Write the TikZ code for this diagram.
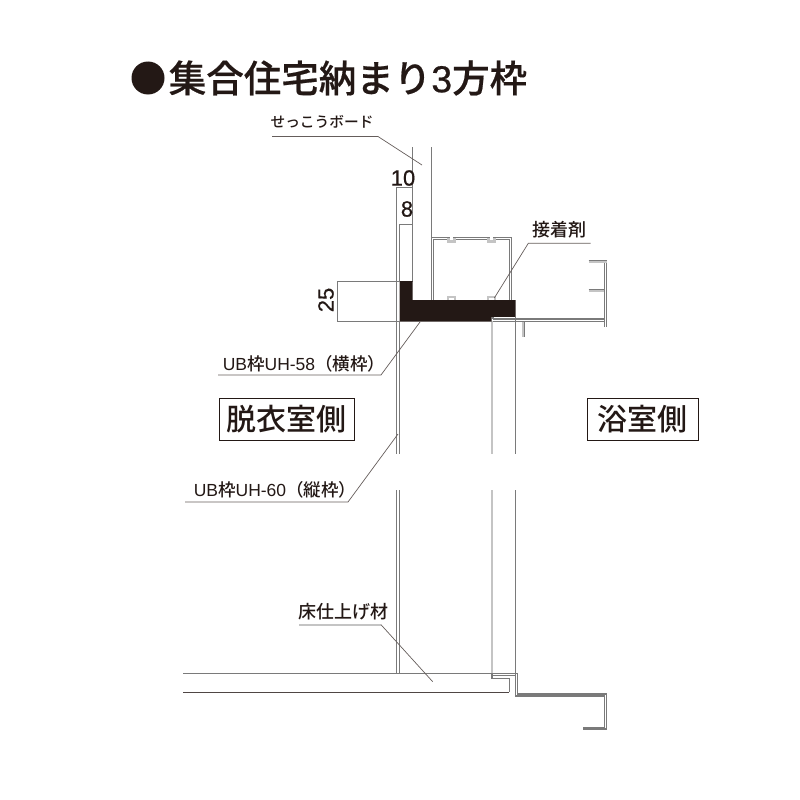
\documentclass[tikz,border=0pt]{standalone}
\usepackage{fontspec}
\setmainfont{Noto Sans CJK JP Medium}
\newfontfamily\latinfont{Liberation Sans}
\newfontfamily\titlefont[FakeBold=0.5]{Noto Sans CJK JP Medium}
\newfontfamily\numberfont[FakeBold=0.5]{Liberation Sans}
\definecolor{inkdark}{HTML}{231815}
\definecolor{linegray}{HTML}{7A7A7A}
\definecolor{palegray}{HTML}{C4C4C4}
\begin{document}
\begin{tikzpicture}[x=1pt,y=-1pt,
  thin line/.style={linegray,line width=1.1pt},
  pale line/.style={palegray,line width=2.4pt},
  double line/.style={linegray,line width=0.9pt,double=white,double distance=1.1pt},
  leader/.style={inkdark!70,line width=0.7pt},
  label/.style={inkdark,inner sep=0pt,font=\fontsize{18}{20}\selectfont},
  dimtext/.style={inkdark,inner sep=0pt,font=\numberfont\fontsize{22}{24}\selectfont},
  room/.style={draw=linegray!80,line width=0.9pt,inkdark,inner sep=0pt,font=\fontsize{30}{34}\selectfont}]
\useasboundingbox (0,0) rectangle (800,800);
\fill [inkdark] (148,78) circle (16.5);
\node (title) at (348,78) [inkdark,inner sep=0pt,font=\titlefont\fontsize{37.5}{42}\selectfont] {集合住宅納まり{\numberfont 3}方枠};
% wall board and frame lines
\draw [thin line] (412.5,147)--(412.5,282);
\draw [thin line] (431.5,147)--(431.5,238);
\draw [thin line] (396.7,187)--(396.7,454);
\draw [thin line] (399.3,224)--(399.3,282);
\draw [thin line] (399.3,321)--(399.3,454);
\draw [thin line] (396.7,490)--(396.7,673);
\draw [thin line] (399.3,490)--(399.3,673);
\draw [thin line] (515.3,317)--(515.3,454);
\draw [thin line] (515.3,490)--(515.3,696);
\draw [pale line] (491.8,321)--(491.8,454);
\draw [pale line] (491.8,490)--(491.8,673);
% hollow section
\draw [double line] (432.5,300)--(432.5,238.3)--(510.8,238.3)--(510.8,300);
\foreach \xclip in {447,487}{
  \fill [palegray] (\xclip,238) rectangle +(8.7,4.5);
  \fill [white] (\xclip+2.8,237) rectangle +(3,3.4);
  \fill [palegray] (\xclip,295.5) rectangle +(8.7,4.5);
  \fill [white] (\xclip+2,297.5) rectangle +(4.7,3);
}
% black section
\fill [inkdark] (399.5,281)--(412.5,281)--(412.5,300)--(515.7,300)--(515.7,316.8)--(491.5,316.8)--(491.5,321.7)--(399.5,321.7)--cycle;
% bath side panel
\draw [thin line] (493,319)--(604,319);
\draw [thin line] (493,321.5)--(604,321.5);
\draw [thin line] (493,317)--(493,319);
\draw [double line] (605.5,327)--(605.5,261.5);
\draw [pale line] (588.5,261.5)--(606.5,261.5);
\draw [linegray,line width=0.8pt] (588.5,260.2)--(606.5,260.2);
\draw [pale line] (588.5,290.5)--(604,290.5);
\draw [linegray,line width=0.8pt] (588.5,289.2)--(604,289.2);
\draw [pale line] (523.3,322)--(523.3,337);
\draw [linegray,line width=0.6pt] (524.7,322)--(524.7,337);
% floor and bath sill
\draw [thin line] (183,673.3)--(517.7,673.3)--(517.7,694)--(606.8,694)--(606.8,729)--(582.7,729);
\draw [thin line] (492,675.7)--(515.3,675.7);
\draw [thin line] (515.3,696)--(604.7,696)--(604.7,727.4)--(582.7,727.4);
\draw [thin line] (492,678.3)--(509.3,678.3)--(509.3,692.3);
\draw [inkdark!80,line width=1.1pt] (183,692.3)--(509.3,692.3);
\fill [linegray] (490.5,673.5) rectangle (493,678.8);
% dimensions
\draw [linegray,line width=0.8pt] (337.5,281)--(399.5,281);
\draw [linegray,line width=0.8pt] (337.5,321.5)--(399.5,321.5);
\draw [linegray,line width=0.6pt] (337.5,281)--(337.5,321.5);
\draw [linegray,line width=0.8pt] (397,187.7)--(412.5,187.7);
\draw [linegray,line width=0.8pt] (399.3,224)--(412.5,224);
\node (dimten) at (403,178) [dimtext] {10};
\node (dimeight) at (407,209) [dimtext] {8};
\node (dimtwentyfive) at (326,300) [dimtext,rotate=90] {25};
% labels
\node (board) at (322,122) [label,font=\fontsize{14.7}{18}\selectfont] {せっこうボード};
\coordinate (boardA) at (272,136.5);
\coordinate (boardB) at (378,136.5);
\coordinate (boardC) at (422,165);
\draw [leader] (boardA)--(boardB)--(boardC);
\node (glue) at (559.5,230) [label] {接着剤};
\coordinate (glueA) at (590.7,243.3);
\coordinate (glueB) at (528.3,243.3);
\coordinate (glueC) at (494.3,298);
\draw [leader] (glueA)--(glueB)--(glueC);
\node (sill) at (304,364) [label,font=\fontsize{17.5}{20}\selectfont] {{\latinfont UB}枠{\latinfont UH-58}（横枠）};
\coordinate (sillA) at (218,375);
\coordinate (sillB) at (381,375);
\coordinate (sillC) at (420,322);
\draw [leader] (sillA)--(sillB)--(sillC);
\node (jamb) at (275,490) [label,font=\fontsize{17.5}{20}\selectfont] {{\latinfont UB}枠{\latinfont UH-60}（縦枠）};
\coordinate (jambA) at (185,502);
\coordinate (jambB) at (348,502);
\coordinate (jambC) at (398,434);
\draw [leader] (jambA)--(jambB)--(jambC);
\node (floor) at (343.5,612) [label] {床仕上げ材};
\coordinate (floorA) at (299,624.7);
\coordinate (floorB) at (381,624.7);
\coordinate (floorC) at (432.7,681.7);
\draw [palegray,line width=1.6pt] (floorA)--(floorB);
\draw [leader] (floorB)--(floorC);
\node (dressing) at (286.5,419) [room,minimum width=135pt,minimum height=42pt] {脱衣室側};
\node (bathroom) at (642.5,419) [room,minimum width=111pt,minimum height=42pt] {浴室側};
\end{tikzpicture}
\end{document}
